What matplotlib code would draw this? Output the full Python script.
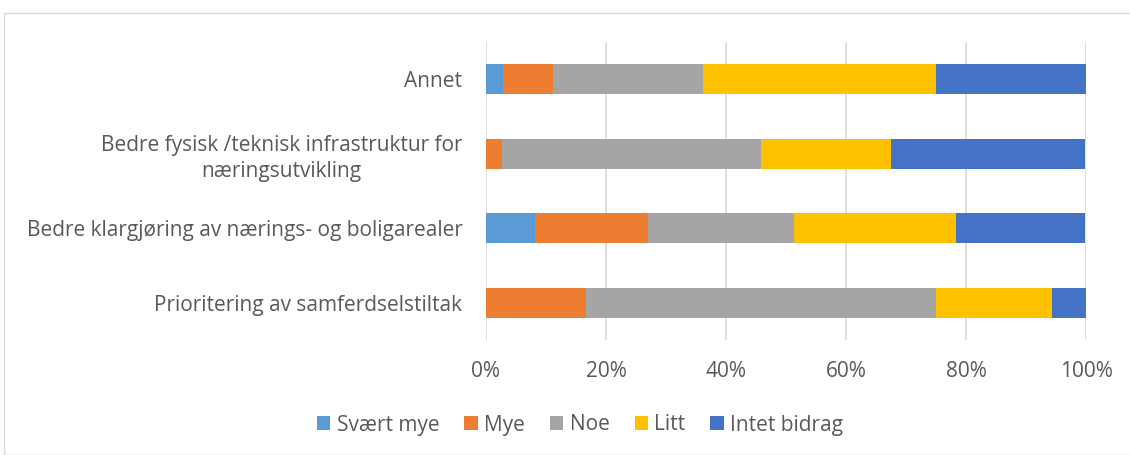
import matplotlib
matplotlib.use("Agg")
import matplotlib.pyplot as plt
from matplotlib.patches import Rectangle
import numpy as np

categories = [
    "Annet",
    "Bedre fysisk /teknisk infrastruktur for\nnæringsutvikling",
    "Bedre klargjøring av nærings- og boligarealer",
    "Prioritering av samferdselstiltak",
]
series_names = ["Svært mye", "Mye", "Noe", "Litt", "Intet bidrag"]
svaert_mye = [2.8, 0.0, 8.1, 0.0]
mye = [8.3, 2.7, 18.9, 16.7]
noe = [25.0, 43.2, 24.3, 58.3]
litt = [38.9, 21.6, 27.0, 19.4]
intet_bidrag = [25.0, 32.4, 21.6, 5.6]
colors = ["#5B9BD5", "#ED7D31", "#A5A5A5", "#FFC000", "#4472C4"]
xticks = [0, 20, 40, 60, 80, 100]
xtick_labels = ["0%", "20%", "40%", "60%", "80%", "100%"]

plt.rcParams['font.family'] = ['Open Sans', 'DejaVu Sans']
text_color = "#595959"
fs = 15

fig = plt.figure(figsize=(11.3, 4.55), dpi=100)
fig.patches.append(Rectangle((4/1130, 0), 1.0, 1 - 13/455, transform=fig.transFigure,
                             fill=False, edgecolor="#D9D9D9", linewidth=1))
ax = fig.add_axes([486/1130, 1 - 340/455, 600/1130, 298/455])

series = [svaert_mye, mye, noe, litt, intet_bidrag]
y = np.arange(len(categories))
left = np.zeros(len(categories))
for name, vals, c in zip(series_names, series, colors):
    vals = np.array(vals)
    ax.barh(y, vals, left=left, height=0.4, color=c, label=name, zorder=3)
    left += vals

ax.set_ylim(len(categories) - 0.5, -0.5)
ax.set_xlim(0, 100)
ax.set_xticks(xticks)
ax.set_xticklabels(xtick_labels)
ax.set_yticks(y)
ax.set_yticklabels(categories, multialignment="center", linespacing=1.3)
ax.tick_params(axis="x", length=0, pad=15, labelsize=fs, labelcolor=text_color)
ax.tick_params(axis="y", length=0, pad=17, labelsize=fs, labelcolor=text_color)
for s in ax.spines.values():
    s.set_visible(False)
ax.grid(axis="x", color="#D9D9D9", linewidth=1.2, zorder=0)
ax.set_axisbelow(True)

leg = fig.legend(loc="center", bbox_to_anchor=(580/1130, 1 - 425/455), ncol=5, frameon=False,
                 fontsize=fs, handlelength=0.65, handleheight=0.65, handletextpad=0.3,
                 columnspacing=1.2)
for t in leg.get_texts():
    t.set_color(text_color)

fig.savefig("out.png", dpi=100)
